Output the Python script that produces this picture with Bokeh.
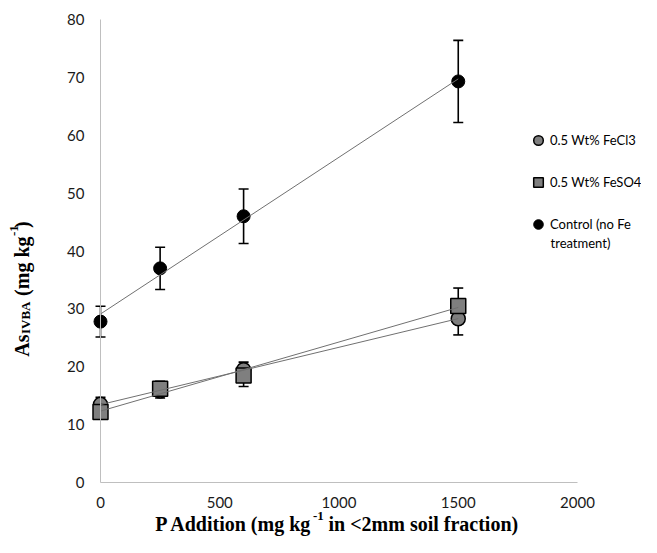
import numpy as np
from bokeh.plotting import figure
from bokeh.models import (ColumnDataSource, Whisker, TeeHead, Legend, LegendItem,
                          Label, FixedTicker, Range1d)
from bokeh.embed import file_html
from bokeh.resources import INLINE

# ---------------- data ----------------
p_addition = [0, 250, 600, 1500]
fecl3 = [13.5, 15.8, 19.5, 28.3]
fecl3_err = [1.2, 1.2, 1.3, 2.8]
feso4 = [12.2, 16.2, 18.5, 30.5]
feso4_err = [1.2, 1.3, 1.9, 3.1]
control = [27.8, 37.0, 46.0, 69.3]
control_err = [2.65, 3.65, 4.7, 7.1]

series_names = ["0.5 Wt% FeCl3", "0.5 Wt% FeSO4", "Control (no Fe", "treatment)"]
x_ticks = [0, 500, 1000, 1500, 2000]
y_ticks = [0, 10, 20, 30, 40, 50, 60, 70, 80]
x_max, y_max = 2000, 80

# ---------------- layout (pixels in the canvas) ----------------
W, H = 641, 537
PX_X0, PX_X1 = 100, 577      # canvas x of x=0 and x=2000
PY_TOP, PY_0 = 19, 482       # canvas y (from top) of y=80 and y=0
xpp = x_max / (PX_X1 - PX_X0)
ypp = y_max / (PY_0 - PY_TOP)
x_range = Range1d(-PX_X0 * xpp, x_max + (W - PX_X1) * xpp)
y_range = Range1d(-(H - PY_0) * ypp, y_max + PY_TOP * ypp)

p = figure(width=W, height=H, x_range=x_range, y_range=y_range,
           output_backend="svg", toolbar_location=None,
           min_border=0, min_border_left=0, min_border_right=0,
           min_border_top=0, min_border_bottom=0)
p.title.visible = False
p.xgrid.visible = False
p.ygrid.visible = False
p.outline_line_color = None
p.background_fill_color = "white"
p.border_fill_color = "white"

AXIS_GRAY = "#BFBFBF"
for ax in (p.xaxis[0], p.yaxis[0]):
    ax.major_tick_line_color = None
    ax.minor_tick_line_color = None
    ax.major_label_text_font = "Lato"
    ax.major_label_text_font_size = "15px"
    ax.major_label_text_color = "#1a1a1a"
    ax.axis_line_color = AXIS_GRAY
    ax.axis_line_width = 1
    ax.fixed_location = 0

p.xaxis.ticker = FixedTicker(ticks=x_ticks)
p.xaxis.bounds = (0, x_max)
p.xaxis.major_label_standoff = 8

p.yaxis.ticker = FixedTicker(ticks=y_ticks)
p.yaxis.bounds = (0, y_max)
p.yaxis.major_label_standoff = 10

# ---------------- error bars ----------------
def add_whisker(ys, errs):
    src = ColumnDataSource(dict(x=p_addition,
                                upper=[y + e for y, e in zip(ys, errs)],
                                lower=[y - e for y, e in zip(ys, errs)]))
    w = Whisker(base="x", upper="upper", lower="lower", source=src,
                line_color="black", line_width=1.6,
                upper_head=TeeHead(size=10, line_color="black", line_width=1.6),
                lower_head=TeeHead(size=10, line_color="black", line_width=1.6))
    p.add_layout(w)

add_whisker(fecl3, fecl3_err)
add_whisker(feso4, feso4_err)
add_whisker(control, control_err)

# ---------------- markers ----------------
r_cl = p.scatter(p_addition, fecl3, marker="circle", size=14, fill_color="#7F7F7F",
                 line_color="black", line_width=1.5)
r_so = p.scatter(p_addition, feso4, marker="square", size=15, fill_color="#7F7F7F",
                 line_color="black", line_width=1.5)
r_ct = p.scatter(p_addition, control, marker="circle", size=13, fill_color="black",
                 line_color="black", line_width=1)

# ---------------- linear trend lines ----------------
for ys in (fecl3, feso4, control):
    coef = np.polyfit(p_addition, ys, 1)
    xs = [min(p_addition), max(p_addition)]
    p.line(xs, list(np.polyval(coef, xs)), line_color="#707070", line_width=1)

# ---------------- legend ----------------
legend = Legend(items=[LegendItem(label=series_names[0], renderers=[r_cl]),
                       LegendItem(label=series_names[1], renderers=[r_so]),
                       LegendItem(label=series_names[2], renderers=[r_ct])],
                location=(526, 301), orientation="vertical",
                glyph_width=24, glyph_height=24, label_height=16, label_standoff=0,
                spacing=18, padding=0, margin=0, border_line_color=None,
                background_fill_alpha=0, label_text_font="Lato",
                label_text_font_size="13px", label_text_color="black")
p.add_layout(legend)
p.add_layout(Label(x=550, y=294.5, x_units="screen", y_units="screen", text=series_names[3],
                   text_font="Lato", text_font_size="13px", text_color="black",
                   text_baseline="middle", text_align="left"))

# ---------------- axis titles (composed for sub/superscripts) ----------------
def title_part(text, x, y, size, angle=0.0, align="left"):
    p.add_layout(Label(x=x, y=y, x_units="screen", y_units="screen", text=text,
                       text_font="Liberation Serif", text_font_style="bold",
                       text_font_size=f"{size}px", angle=angle, text_align=align,
                       text_baseline="alphabetic", text_color="black"))

# x title (anchored at the superscript)
XS = 312
title_part("P Addition (mg kg", XS, 14, 20, align="right")
title_part("-1", XS + 0.5, 22, 13)
title_part("in <2mm soil fraction)", XS + 16, 14, 20)

# y title (rotated, reading upwards), anchored at subscript and superscript
A = np.pi / 2
Y1, Y2 = 203, 301
title_part("As", 21, Y1, 20, A, align="right")
title_part("IVBA", 25, Y1 + 0.5, 13, A)
title_part("(mg kg", 21, Y2, 20, A, align="right")
title_part("-1", 13, Y2 + 0.5, 13, A)
title_part(")", 21, Y2 + 8.5, 20, A)

open("out.html", "w").write(file_html(p, INLINE))
